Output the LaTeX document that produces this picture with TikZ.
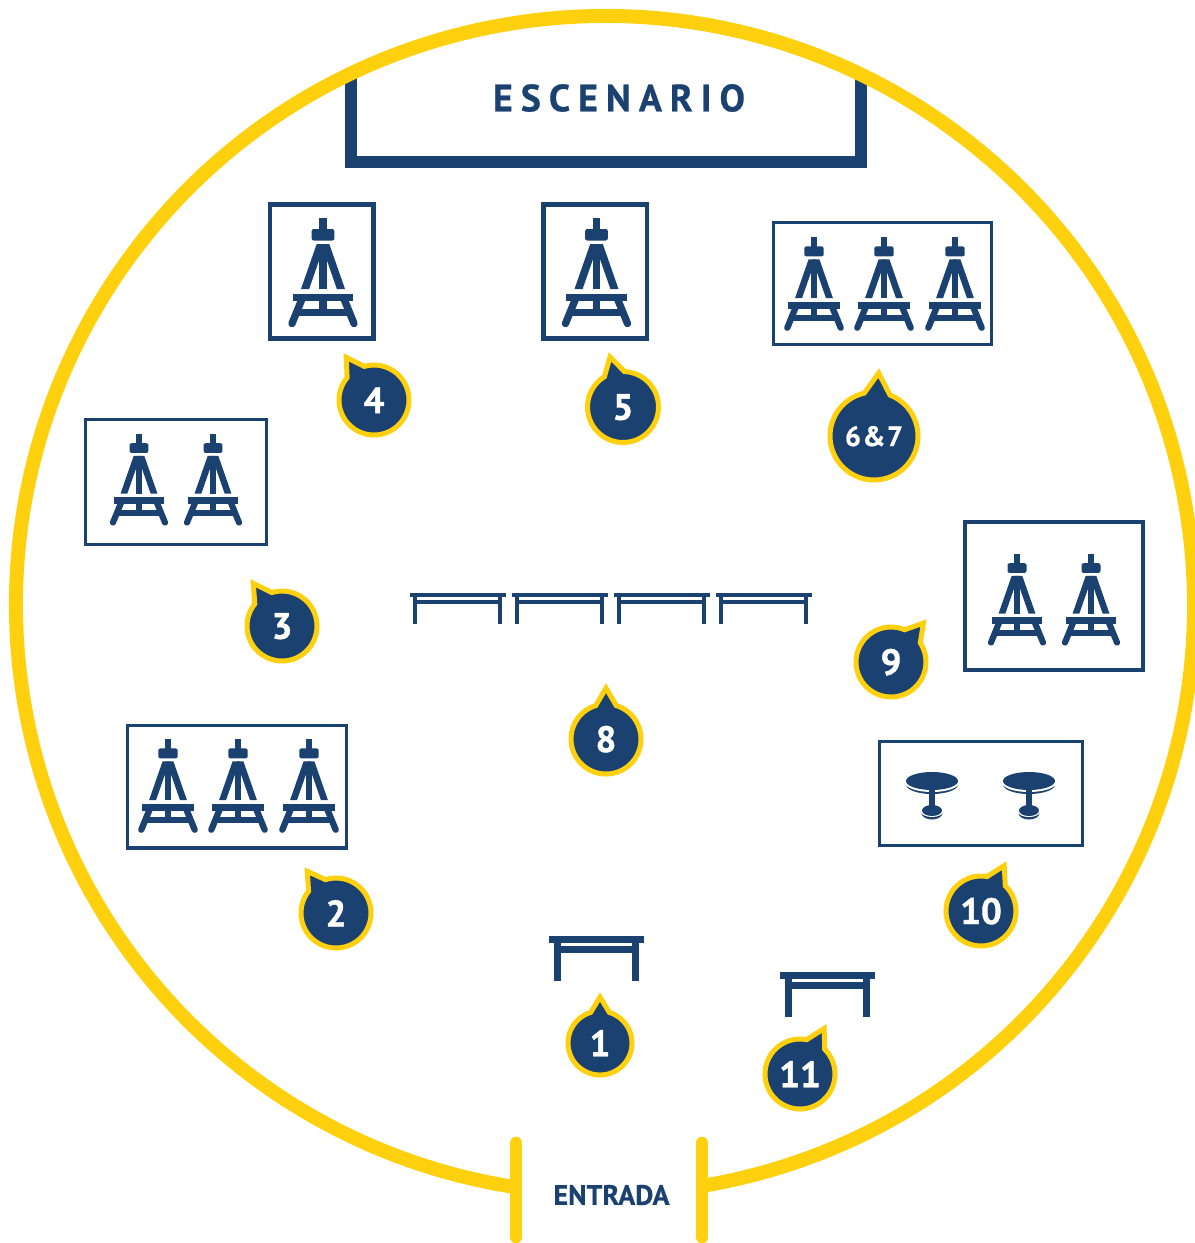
\documentclass[tikz,border=0pt]{standalone}
\usepackage{fontspec}
\setmainfont{PT Sans}
\newfontfamily\spacedfont[LetterSpace=21,FakeBold=0.6]{PT Sans Bold}
\newfontfamily\lightspaced[LetterSpace=6,FakeBold=0.8]{PT Sans Bold}
\newfontfamily\numfont[FakeBold=1.1]{PT Sans Bold}
\newfontfamily\entryfont[FakeBold=0.5]{PT Sans Bold}
\definecolor{navy}{HTML}{1A4170}
\definecolor{gold}{HTML}{FFD00D}
\tikzset{
  x=.75pt,y=.75pt,
  ring/.style={draw=gold,line width=10.5pt},
  post/.style={draw=gold,line width=9.4pt,line cap=round},
  frame/.style={draw=navy,line width=#1},
  bubble/.style={draw=gold,fill=navy,line width=3.75pt,line join=miter,miter limit=10},
  numtext/.style={text=white,font=\numfont\fontsize{27.5}{27.5}\selectfont,inner sep=0pt},
}
% easel: centre x, top y, scale
\newcommand{\easelicon}[3]{%
  \begin{scope}[shift={(#1,-#2)},scale=#3]
    \fill[navy] (-3.7,0) rectangle (3.7,-14);
    \fill[navy,rounded corners=1.5pt] (-11.3,-11) -- (-11.3,-22.5) -- (11.3,-22.5) -- (11.3,-11) -- cycle;
    \fill[navy] (-6.3,-26) -- (1.8,-26) -- (-13.9,-71) -- (-22,-71) -- cycle;
    \fill[navy] (6.3,-26) -- (-1.8,-26) -- (13.9,-71) -- (22,-71) -- cycle;
    \fill[navy] (-3.9,-30) rectangle (3.9,-71);
    \fill[navy] (-30.3,-75.5) rectangle (30.3,-83.2);
    \fill[navy] (-3.9,-83) rectangle (3.9,-91);
    \fill[navy] (-25,-90.5) rectangle (25,-97.5);
    \draw[navy,line width=#3*5.5pt,line cap=round] (-21,-81) -- (-31,-105.5);
    \draw[navy,line width=#3*5.5pt,line cap=round] (21,-81) -- (31,-105.5);
  \end{scope}}
% big table: left x, top y
\newcommand{\bigtable}[2]{%
  \begin{scope}[shift={(#1,-#2)}]
    \fill[navy] (0,0) rectangle (95,-7);
    \fill[navy] (5,-9.5) rectangle (90,-17);
    \fill[navy] (5,-5) rectangle (12,-45);
    \fill[navy] (83,-5) rectangle (90,-45);
  \end{scope}}
% slim table: left x, top y
\newcommand{\slimtable}[2]{%
  \begin{scope}[shift={(#1,-#2)}]
    \fill[navy] (-.5,0) rectangle (96,-4);
    \fill[navy] (3,-7) rectangle (92,-11);
    \fill[navy] (2.5,-3) rectangle (6.5,-31);
    \fill[navy] (88,-3) rectangle (92,-31);
  \end{scope}}
% round table: centre x
\newcommand{\roundtable}[1]{%
  \begin{scope}[shift={(#1,-781)}]
    \fill[navy] (0,-3.5) ellipse [x radius=26,y radius=9.5];
    \fill[white] (0,-1.7) ellipse [x radius=27,y radius=9.3];
    \fill[navy] (0,0) ellipse [x radius=26,y radius=9];
    \fill[navy] (-3,-8) rectangle (3,-27);
    \fill[navy] (0,-32) ellipse [x radius=10.5,y radius=6.5];
    \fill[white] (0,-30.7) ellipse [x radius=11,y radius=5.3];
    \fill[navy] (0,-29.5) ellipse [x radius=10,y radius=5.5];
  \end{scope}}
% bubble: name, cx, cy, tip x, tip y, outer radius, label
\newcommand{\bubblemark}[7]{%
  \pgfmathsetmacro{\ang}{atan2(#3-#5,#4-#2)}
  \pgfmathsetmacro{\tipd}{veclen(#4-#2,#5-#3)-4}
  \pgfmathsetmacro{\rc}{#6-2}
  \begin{scope}[shift={(#2,-#3)}]
    \draw[bubble] (\ang+17:\rc) arc[start angle=\ang+17,delta angle=326,radius=\rc*.75pt] -- (\ang:\tipd) -- cycle;
    \node[numtext] (#1) at (0,-.2) {#7};
  \end{scope}}
\begin{document}
\begin{tikzpicture}
\useasboundingbox (0,0) rectangle (1195,-1243);
\fill[white] (0,0) rectangle (1195,-1243);
% stage
\coordinate (stageA) at (351,-74);
\coordinate (stageB) at (351,-162);
\coordinate (stageC) at (861,-162);
\coordinate (stageD) at (861,-74);
\draw[navy,line width=9pt,line join=miter] (stageA) -- (stageB) -- (stageC) -- (stageD);
% hall outline
\draw[ring] (605,-605) ++(-80.52:589) arc[start angle=-80.52,delta angle=341.83,radius=441.75pt];
\draw[post] (516,-1143) -- (516,-1237);
\draw[post] (702,-1143) -- (702,-1237);
\node[text=navy,font=\spacedfont\fontsize{28.5}{28.5}\selectfont,inner sep=0pt] (stage) at (619,-98) {ESCENARIO};
\node[text=navy,font=\entryfont\fontsize{21}{21}\selectfont,inner sep=0pt] (entry) at (611.5,-1195) {ENTRADA};
% boxes
\draw[frame=3.6pt] (270,-204.5) rectangle (373.7,-338.5);
\draw[frame=3.6pt] (543.5,-204.5) rectangle (647,-338.5);
\draw[frame=2.6pt] (773.5,-222.5) rectangle (991.5,-344.5);
\draw[frame=2.6pt] (85.5,-419.5) rectangle (266.5,-544.5);
\draw[frame=3.2pt] (965,-522) rectangle (1143,-670);
\draw[frame=2.6pt] (127.5,-725.5) rectangle (346.5,-848);
\draw[frame=2.6pt] (879.5,-741.5) rectangle (1082.5,-845.5);
% easels
\easelicon{323}{218}{1}
\easelicon{596.5}{218}{1}
\easelicon{814}{237}{.86}
\easelicon{884}{237}{.86}
\easelicon{955}{237}{.86}
\easelicon{139}{434}{.84}
\easelicon{213}{434}{.84}
\easelicon{1017}{554}{.84}
\easelicon{1091}{554}{.84}
\easelicon{168}{739}{.86}
\easelicon{238}{739}{.86}
\easelicon{309}{739}{.86}
% tables
\slimtable{410}{593}
\slimtable{512}{593}
\slimtable{614}{593}
\slimtable{716}{593}
\bigtable{549}{936}
\bigtable{780}{972}
\roundtable{932}
\roundtable{1029}
% markers
\bubblemark{m4}{374}{400}{344}{354}{37}{4}
\bubblemark{m5}{623}{407}{609}{353}{37.5}{5}
\bubblemark{m67}{874}{436}{879}{369}{46}{\lightspaced\fontsize{21}{21}\selectfont 6\&7}
\bubblemark{m3}{282}{626}{251}{580}{37}{3}
\bubblemark{m2}{336}{913}{305}{868}{37}{2}
\bubblemark{m8}{606}{739}{606}{684}{37}{8}
\bubblemark{m9}{891}{662}{926}{620}{37}{9}
\bubblemark{m10}{981}{911}{1006}{862}{37}{10}
\bubblemark{m1}{600}{1043}{600}{993}{34}{1}
\bubblemark{m11}{800}{1074}{826}{1025}{37}{11}
\end{tikzpicture}
\end{document}
